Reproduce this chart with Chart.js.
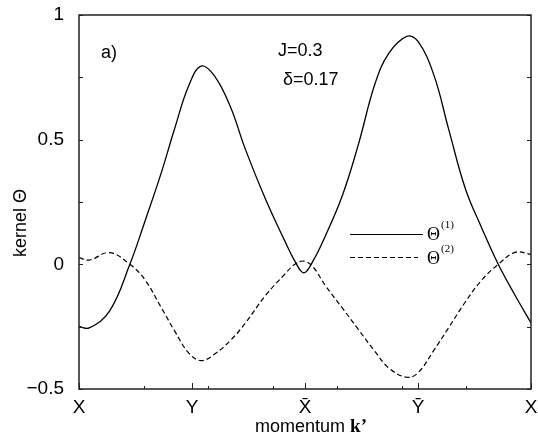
<!DOCTYPE html>
<html lang="en">
  <head>
    <meta charset="UTF-8" />
    <script src="https://cdn.jsdelivr.net/npm/chart.js"></script>
    <style>
      body { margin: 0; background: #fff; }
      #wrap { width: 538px; height: 443px; }
    </style>
    <title>kernel</title>
  </head>
  <body>
    <div id="wrap"><canvas id="kernelChart" width="538" height="443"></canvas></div>
    <script>
      // momentum path X -> Y -> Xbar -> Ybar -> X, one unit per segment
      const kPos = [0, 0.09, 0.27, 0.45, 0.58, 0.73, 0.85, 0.97, 1.08, 1.2, 1.34, 1.47, 1.65, 1.82, 1.91, 1.99, 2.07, 2.18, 2.33, 2.47, 2.62, 2.74, 2.9, 3.0, 3.14, 3.27, 3.42, 3.56, 3.71, 3.86, 4.0];
      const theta1 = [-0.249, -0.255, -0.188, 0, 0.168, 0.37, 0.55, 0.715, 0.795, 0.755, 0.632, 0.464, 0.262, 0.095, 0.013, -0.034, 0.013, 0.114, 0.275, 0.477, 0.725, 0.845, 0.914, 0.894, 0.76, 0.544, 0.302, 0.15, 0, -0.125, -0.235];
      const theta2 = [0.027, 0.017, 0.047, 0, -0.06, -0.175, -0.27, -0.355, -0.386, -0.36, -0.305, -0.237, -0.125, -0.04, 0, 0.013, -0.01, -0.085, -0.175, -0.26, -0.35, -0.415, -0.453, -0.435, -0.345, -0.255, -0.15, -0.065, 0, 0.048, 0.04];
      const xTickPos = [0, 1, 2, 3, 4];
      const xTickLabels = ["X", "Y", "X\u0304", "Y\u0304", "X"];
      const yTickVals = [-0.5, 0, 0.5, 1];
      const yTickLabels = ["\u22120.5", "0", "0.5", "1"];

      const SANS = "'Liberation Sans', 'DejaVu Sans', Arial, sans-serif";
      const SERIF = "'Liberation Serif', 'DejaVu Serif', serif";

      const toPts = (ys) => kPos.map((k, i) => ({ x: k, y: ys[i] }));

      // box, inward ticks, labels and legend
      const decorPlugin = {
        id: "decor",
        afterDatasetsDraw(chart) {
          const { ctx, chartArea: a, scales } = chart;
          const x = scales.x, y = scales.y;
          ctx.save();
          ctx.strokeStyle = "#222";
          ctx.lineWidth = 1;
          ctx.beginPath();
          for (let i = 0; i <= 6; i++) {
            const py = Math.round(y.getPixelForValue(-0.5 + i * 0.25)) + 0.5;
            ctx.moveTo(a.left, py); ctx.lineTo(a.left + 4, py);
            ctx.moveTo(a.right, py); ctx.lineTo(a.right - 4, py);
          }
          for (let i = 0; i <= 7; i++) {
            const px = Math.round(x.getPixelForValue((4 * i) / 7)) + 0.5;
            ctx.moveTo(px, a.bottom); ctx.lineTo(px, a.bottom - 3);
          }
          xTickPos.forEach((v) => {
            const px = Math.round(x.getPixelForValue(v)) + 0.5;
            ctx.moveTo(px, a.bottom); ctx.lineTo(px, a.bottom - 6);
          });
          ctx.stroke();
          ctx.lineWidth = 1.5;
          ctx.strokeRect(a.left, a.top, a.right - a.left, a.bottom - a.top);

          // tick labels
          ctx.fillStyle = "#000";
          ctx.font = "19px " + SANS;
          ctx.textAlign = "right";
          ctx.textBaseline = "middle";
          yTickVals.forEach((v, i) => ctx.fillText(yTickLabels[i], a.left - 15, y.getPixelForValue(v)));
          ctx.textAlign = "center";
          ctx.textBaseline = "top";
          xTickPos.forEach((v, i) => ctx.fillText(xTickLabels[i], x.getPixelForValue(v), a.bottom + 9));

          // legend
          const lx0 = 350, lx1 = 423;
          ctx.lineWidth = 1.2;
          ctx.strokeStyle = "#000";
          ctx.beginPath(); ctx.moveTo(lx0, 234.5); ctx.lineTo(lx1, 234.5); ctx.stroke();
          ctx.setLineDash([5, 3]);
          ctx.beginPath(); ctx.moveTo(lx0, 257.5); ctx.lineTo(418, 257.5); ctx.stroke();
          ctx.setLineDash([]);
          ctx.textBaseline = "alphabetic";
          ctx.textAlign = "left";
          ctx.font = "18px " + SERIF;
          ctx.fillText("\u0398", 427, 240);
          ctx.fillText("\u0398", 427, 264);
          ctx.font = "11px " + SERIF;
          ctx.fillText("(1)", 441, 228);
          ctx.fillText("(2)", 441, 252);

          // annotations
          ctx.font = "18px " + SANS;
          ctx.fillText("a)", 101, 58);
          ctx.fillText("J=0.3", 278, 56);
          ctx.fillText("\u03b4=0.17", 283, 85);

          // axis titles
          ctx.font = "18px " + SANS;
          const t1 = "momentum ";
          const w1 = ctx.measureText(t1).width;
          ctx.font = "bold 19px " + SERIF;
          const w2 = ctx.measureText("k\u2019").width;
          const tx = (a.left + a.right) / 2 - (w1 + w2) / 2 + 6;
          ctx.font = "18px " + SANS;
          ctx.fillText(t1, tx, 432);
          ctx.font = "bold 19px " + SERIF;
          ctx.fillText("k\u2019", tx + w1, 432);

          ctx.translate(26, 223);
          ctx.rotate(-Math.PI / 2);
          ctx.textAlign = "center";
          ctx.font = "18px " + SANS;
          ctx.fillText("kernel \u0398", 0, 0);
          ctx.restore();
        },
      };

      const ctx = document.getElementById("kernelChart").getContext("2d");
      new Chart(ctx, {
        type: "line",
        data: {
          datasets: [
            {
              label: "\u0398(1)",
              data: toPts(theta1),
              borderColor: "#000",
              borderWidth: 1.3,
              pointRadius: 0,
              tension: 0.4,
            },
            {
              label: "\u0398(2)",
              data: toPts(theta2),
              borderColor: "#000",
              borderWidth: 1.2,
              borderDash: [5, 3],
              pointRadius: 0,
              tension: 0.4,
            },
          ],
        },
        options: {
          responsive: false,
          animation: false,
          layout: { padding: { top: 15, right: 7, left: 0, bottom: 0 } },
          plugins: { legend: { display: false }, tooltip: { enabled: false } },
          scales: {
            x: {
              type: "linear",
              min: 0,
              max: 4,
              grid: { display: false, drawTicks: false },
              border: { display: false },
              afterBuildTicks: (s) => { s.ticks = xTickPos.map((v) => ({ value: v })); },
              afterFit: (s) => { s.height = 54; },
              ticks: { display: false },
            },
            y: {
              min: -0.5,
              max: 1,
              grid: { display: false, drawTicks: false },
              border: { display: false },
              afterBuildTicks: (s) => { s.ticks = yTickVals.map((v) => ({ value: v })); },
              afterFit: (s) => { s.width = 79; },
              ticks: { display: false },
            },
          },
        },
        plugins: [decorPlugin],
      });
    </script>
  </body>
</html>
